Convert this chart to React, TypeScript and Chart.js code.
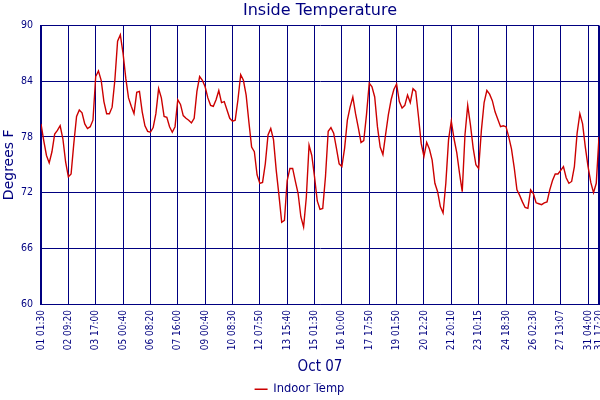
import React, { useEffect, useRef } from "react";
import { Chart, registerables } from "chart.js";

Chart.register(...registerables);

const NAVY = "#000080";
const RED = "#cc0000";

// Indoor temperature readings (°F), one reading per sample index
const indoorTemp: number[] = [
  79.4, 77.6, 76.0, 75.2, 76.4, 78.3, 78.7, 79.2, 77.8, 75.3,
  73.7, 74.0, 77.3, 80.2, 80.9, 80.6, 79.4, 78.9, 79.1, 79.8,
  84.5, 85.1, 84.1, 81.8, 80.5, 80.5, 81.2, 84.1, 88.3, 89.0,
  87.0, 84.3, 82.2, 81.3, 80.5, 82.8, 82.9, 80.7, 79.2, 78.6,
  78.5, 79.0, 80.5, 83.2, 82.2, 80.2, 80.1, 79.1, 78.5, 79.1,
  82.0, 81.5, 80.3, 80.0, 79.8, 79.5, 80.0, 82.9, 84.5, 84.1,
  83.4, 82.2, 81.4, 81.3, 82.0, 83.0, 81.7, 81.8, 80.9, 80.0,
  79.7, 79.8, 82.0, 84.7, 84.1, 82.5, 79.6, 76.9, 76.4, 73.9,
  73.0, 73.1, 75.1, 78.2, 78.9, 77.7, 74.4, 71.7, 68.8, 69.0,
  73.3, 74.6, 74.6, 73.2, 71.9, 69.4, 68.3, 71.5, 77.1, 76.0,
  73.7, 71.1, 70.2, 70.3, 73.7, 78.6, 79.0, 78.4, 76.8, 75.1,
  74.8, 76.8, 79.8, 81.2, 82.3, 80.5, 79.0, 77.4, 77.6, 80.4,
  83.8, 83.4, 82.3, 79.1, 76.9, 76.1, 78.3, 80.4, 82.0, 83.1,
  83.7, 81.8, 81.1, 81.4, 82.5, 81.7, 83.2, 82.9, 80.2, 77.3,
  75.9, 77.4, 76.7, 75.5, 73.0, 72.1, 70.5, 69.8, 73.0, 77.7,
  79.7, 77.8, 76.3, 74.1, 72.1, 78.2, 81.4, 79.3, 76.8, 75.0,
  74.6, 78.7, 81.7, 83.0, 82.6, 81.9, 80.7, 79.9, 79.1, 79.2,
  79.1, 78.0, 76.7, 74.7, 72.3, 71.7, 71.0, 70.4, 70.3, 72.3,
  71.9, 70.9, 70.8, 70.7, 70.9, 71.0, 72.3, 73.3, 74.0, 74.0,
  74.4, 74.8, 73.6, 73.0, 73.2, 74.8, 78.4, 80.5, 79.4, 76.9,
  74.8, 73.1, 72.0, 73.0, 78.0,
];

// Sample indices that carry a time label, and the labels
const tickIndex: number[] = [
  0, 10, 20, 30, 40, 50, 60, 70, 80, 90, 100,
  110, 120, 130, 140, 150, 160, 170, 180, 190, 200, 204,
];
const tickLabels: string[] = [
  "01 01:30", "02 09:20", "03 17:00", "05 00:40", "06 08:20", "07 16:00",
  "09 00:40", "10 08:30", "12 07:50", "13 15:40", "15 01:30", "16 10:00",
  "17 17:50", "19 01:50", "20 12:20", "21 20:10", "23 10:15", "24 18:30",
  "26 02:30", "27 13:07", "31 04:00", "31 17:20",
];

const yMin = 60;
const yMax = 90;
const yStep = 6;

const TICK_FONT = "'DejaVu Sans Condensed', 'DejaVu Sans', sans-serif";
const MAIN_FONT = "'DejaVu Sans', sans-serif";

export default function App() {
  const canvasRef = useRef<HTMLCanvasElement | null>(null);

  useEffect(() => {
    const canvas = canvasRef.current;
    if (!canvas) return;
    const lastTick = tickIndex.length - 1;
    const chart = new Chart(canvas, {
      type: "line",
      data: {
        datasets: [
          {
            label: "Indoor Temp",
            data: indoorTemp.map((v, i) => ({ x: i, y: v })),
            borderColor: RED,
            backgroundColor: RED,
            borderWidth: 1.4,
            pointRadius: 0,
            tension: 0,
            fill: false,
          },
        ],
      },
      options: {
        animation: false,
        responsive: false,
        maintainAspectRatio: false,
        layout: { padding: { left: 0, right: 1, top: 0, bottom: -5 } },
        plugins: {
          title: {
            display: true,
            text: "Inside Temperature",
            color: NAVY,
            fullSize: false,
            font: { family: MAIN_FONT, size: 16, weight: "normal" },
            padding: { top: 1, bottom: 5.3 },
          },
          legend: {
            display: true,
            position: "bottom",
            labels: {
              color: NAVY,
              font: { family: MAIN_FONT, size: 11.5 },
              usePointStyle: true,
              pointStyle: "line",
              pointStyleWidth: 13,
              padding: 0,
            },
          },
          tooltip: { enabled: false },
        },
        scales: {
          x: {
            type: "linear",
            min: 0,
            max: tickIndex[lastTick],
            afterBuildTicks: (axis: any) => {
              axis.ticks = tickIndex.map((v) => ({ value: v }));
            },
            afterFit: (axis: any) => {
              axis.height = 79.5;
              axis.paddingLeft = 0;
              axis.paddingRight = 0;
            },
            ticks: {
              autoSkip: false,
              minRotation: 90,
              maxRotation: 90,
              padding: 6,
              color: NAVY,
              font: { family: TICK_FONT, size: 10 },
              callback: (value: any) => {
                const k = tickIndex.indexOf(Number(value));
                return k >= 0 ? tickLabels[k] : "";
              },
            },
            grid: {
              color: NAVY,
              lineWidth: (ctx: any) => (ctx.index === lastTick ? 2 : 1),
              drawTicks: false,
            },
            border: { color: NAVY, width: 1 },
            title: {
              display: true,
              text: "Oct 07",
              color: NAVY,
              font: { family: TICK_FONT, size: 15 },
              padding: { top: 0, bottom: 7.5 },
            },
          },
          y: {
            type: "linear",
            min: yMin,
            max: yMax,
            afterFit: (axis: any) => {
              axis.width = 41;
            },
            ticks: {
              stepSize: yStep,
              padding: 8,
              color: NAVY,
              font: { family: TICK_FONT, size: 10.5 },
            },
            grid: {
              color: NAVY,
              lineWidth: 1,
              drawTicks: false,
            },
            border: { color: NAVY, width: 2 },
            title: {
              display: true,
              text: "Degrees F",
              color: NAVY,
              font: { family: MAIN_FONT, size: 14 },
              padding: { top: 0.5, bottom: 0 },
            },
          },
        },
      },
    } as any);
    return () => chart.destroy();
  }, []);

  return (
    <div style={{ position: "absolute", left: 0, top: 0, width: 600, height: 400, background: "#ffffff" }}>
      <canvas ref={canvasRef} width={600} height={400} style={{ display: "block" }} />
    </div>
  );
}
